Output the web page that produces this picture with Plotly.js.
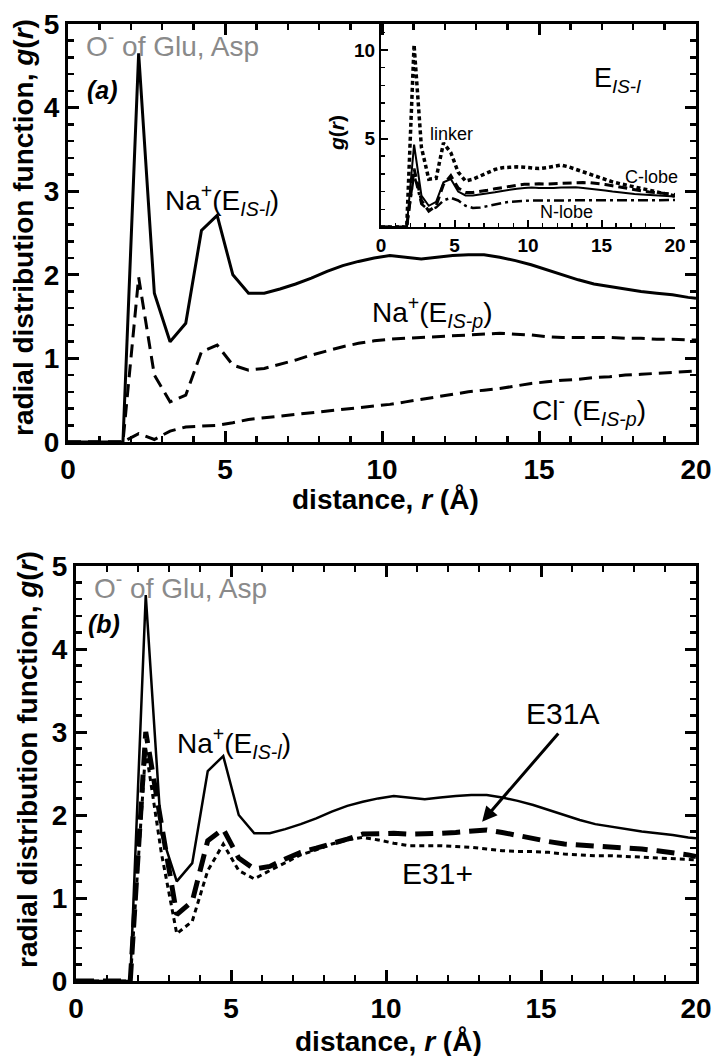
<!DOCTYPE html>
<html>
<head>
<meta charset="utf-8">
<script src="https://cdn.plot.ly/plotly-3.0.1.min.js"></script>
<style>
html,body{margin:0;padding:0;background:#fff;}
#wrap{position:relative;width:717px;height:1056px;}
#chart{position:absolute;left:0;top:0;width:717px;height:1056px;}
#inset{position:absolute;left:0;top:0;width:717px;height:1056px;pointer-events:none;}
</style>
</head>
<body>
<div id="wrap"><div id="chart"></div><div id="inset"></div></div>
<script>
// distance grid (Å)
const r = [0, 1.25, 1.75, 2.25, 2.75, 3.25, 3.75, 4.25, 4.75, 5.25, 5.75, 6.25, 6.75, 7.25, 7.75, 8.25, 8.75, 9.25, 9.75, 10.25, 10.75, 11.25, 11.75, 12.25, 12.75, 13.25, 13.75, 14.25, 14.75, 15.25, 15.75, 16.25, 16.75, 17.25, 17.75, 18.25, 18.75, 19.25, 19.75, 20];
// panel (a)
const naL = [0,0,0,4.65,1.78,1.2,1.42,2.53,2.71,2.0,1.78,1.78,1.83,1.89,1.96,2.04,2.11,2.16,2.2,2.23,2.21,2.19,2.21,2.23,2.24,2.24,2.21,2.17,2.12,2.06,2.0,1.94,1.89,1.86,1.83,1.8,1.78,1.76,1.73,1.72];
const naP = [0,0,0,1.97,0.8,0.48,0.56,1.08,1.16,0.92,0.86,0.88,0.93,0.98,1.04,1.09,1.14,1.18,1.21,1.23,1.24,1.25,1.26,1.27,1.28,1.29,1.3,1.29,1.28,1.26,1.25,1.25,1.25,1.25,1.24,1.24,1.23,1.23,1.22,1.22];
const clP = [0,0,0,0.1,0.03,0.13,0.18,0.19,0.2,0.23,0.27,0.29,0.31,0.33,0.35,0.37,0.39,0.41,0.43,0.45,0.48,0.51,0.54,0.57,0.6,0.62,0.64,0.67,0.7,0.72,0.74,0.75,0.77,0.78,0.8,0.81,0.82,0.83,0.84,0.85];
// panel (b)
const e31A = [0,0,0,3.0,1.88,0.8,0.96,1.69,1.83,1.48,1.35,1.38,1.47,1.55,1.6,1.65,1.71,1.77,1.78,1.78,1.77,1.77,1.78,1.79,1.81,1.82,1.79,1.75,1.71,1.68,1.65,1.64,1.63,1.62,1.6,1.59,1.57,1.55,1.52,1.5];
const e31P = [0,0,0,2.8,1.55,0.57,0.72,1.33,1.65,1.33,1.23,1.33,1.43,1.52,1.58,1.65,1.7,1.73,1.7,1.66,1.63,1.63,1.63,1.62,1.61,1.59,1.57,1.56,1.56,1.55,1.53,1.52,1.51,1.51,1.5,1.49,1.48,1.47,1.46,1.46];
// inset (E_IS-l)
const linker = [0,0,0,10.3,4.5,2.7,2.75,4.75,4.2,3.1,2.6,2.7,2.9,3.1,3.25,3.35,3.4,3.4,3.38,3.35,3.3,3.35,3.45,3.5,3.4,3.25,3.1,2.95,2.8,2.65,2.55,2.45,2.35,2.25,2.15,2.05,1.95,1.85,1.8,1.75];
const cLobe = [0,0,0,3.3,1.5,0.9,1.2,2.4,2.9,2.2,1.95,1.95,2.0,2.08,2.16,2.24,2.3,2.36,2.41,2.44,2.44,2.43,2.45,2.48,2.5,2.51,2.51,2.5,2.46,2.4,2.33,2.25,2.17,2.1,2.04,1.98,1.93,1.89,1.86,1.84];
const nLobe = [0,0,0,3.0,1.3,0.95,1.1,1.5,1.65,1.5,1.2,1.08,1.1,1.18,1.28,1.36,1.42,1.46,1.49,1.5,1.5,1.5,1.52,1.53,1.54,1.54,1.54,1.54,1.53,1.53,1.53,1.53,1.53,1.52,1.52,1.52,1.52,1.52,1.52,1.52];
const xTicks = [0, 5, 10, 15, 20];
const yTicks = [0, 1, 2, 3, 4, 5];
const insetXTicks = [0, 5, 10, 15, 20];
const insetYTicks = [5, 10];

const W = 717, H = 1056;
const FONT = 'Liberation Sans, Arial, sans-serif';
const dx = (a, b) => [a / W, b / W];
const dy = (top, bottom) => [1 - bottom / H, 1 - top / H];
const px = (x) => x / W, py = (y) => 1 - y / H;

function mainAxis(domain, range, tickvals, dtickMinor, anchor, standoff) {
  return {
    domain: domain, range: range, anchor: anchor,
    tickmode: 'linear', tick0: tickvals[0], dtick: tickvals[1] - tickvals[0],
    ticks: 'inside', ticklen: 11, tickwidth: 3, tickcolor: '#000',
    minor: {tickmode: 'linear', tick0: 0, dtick: dtickMinor, ticks: 'inside', ticklen: 6, tickwidth: 2.5, tickcolor: '#000', showgrid: false},
    showline: true, linewidth: 3, linecolor: '#000', mirror: 'allticks',
    showgrid: false, zeroline: false,
    tickfont: {family: FONT, size: 28, color: '#000', weight: 'bold'},
    ticklabelstandoff: standoff
  };
}
function insetAxis(domain, range, tickvals, dtickMinor, anchor) {
  return {
    domain: domain, range: range, anchor: anchor,
    tickmode: 'array', tickvals: tickvals,
    ticks: 'inside', ticklen: 7, tickwidth: 2, tickcolor: '#000',
    minor: {tickmode: 'linear', tick0: 0, dtick: dtickMinor, ticks: 'inside', ticklen: 4, tickwidth: 1.5, tickcolor: '#000', showgrid: false},
    showline: true, linewidth: 2, linecolor: '#000', mirror: false,
    showgrid: false, zeroline: false,
    tickfont: {family: FONT, size: 19, color: '#000', weight: 'bold'},
    ticklabelstandoff: 0
  };
}

const line = (x, y, xa, ya, w, dash) => ({x: x, y: y, xaxis: xa, yaxis: ya, type: 'scatter', mode: 'lines',
  line: {color: '#000', width: w, dash: dash}, hoverinfo: 'skip'});

const txt = (text, x, y, xref, yref, size, extra) => Object.assign({
  text: text, x: x, y: y, xref: xref, yref: yref, showarrow: false,
  font: {family: FONT, size: size, color: '#000'}, xanchor: 'center', yanchor: 'middle'
}, extra || {});
const gray = '#8a8a8a';

// ---- main figure: panels (a) and (b)
const mainData = [
  line(r, naL, 'x', 'y', 3, 'solid'),
  line(r, naP, 'x', 'y', 3, '13px,7px'),
  line(r, clP, 'x', 'y', 3, '13px,7px'),
  line(r, naL, 'x2', 'y2', 2.5, 'solid'),
  line(r, e31P, 'x2', 'y2', 3, '5px,4px'),
  line(r, e31A, 'x2', 'y2', 5, '18px,9px')
];
const mainAnnotations = [
  txt('<b>radial distribution function, <i>g</i>(<i>r</i>)</b>', px(23), py(228), 'paper', 'paper', 28, {textangle: -90}),
  txt('<b>distance, <i>r</i> (Å)</b>', px(385), py(499), 'paper', 'paper', 28),
  txt('<b>radial distribution function, <i>g</i>(<i>r</i>)</b>', px(27), py(760), 'paper', 'paper', 28, {textangle: -90}),
  txt('<b>distance, <i>r</i> (Å)</b>', px(388), py(1041), 'paper', 'paper', 28),
  txt('O<sup>-</sup> of Glu, Asp', 0.5, 4.76, 'x', 'y', 28, {xanchor: 'left', font: {family: FONT, size: 28, color: gray}}),
  txt('<b><i>(a)</i></b>', 1.1, 4.21, 'x', 'y', 25),
  txt('Na<sup>+</sup>(E<sub><i>IS-l</i></sub>)', 4.9, 2.9, 'x', 'y', 28),
  txt('Na<sup>+</sup>(E<sub><i>IS-p</i></sub>)', 11.6, 1.55, 'x', 'y', 28),
  txt('Cl<sup>-</sup> (E<sub><i>IS-p</i></sub>)', 16.6, 0.38, 'x', 'y', 28),
  txt('O<sup>-</sup> of Glu, Asp', 0.5, 4.76, 'x2', 'y2', 28, {xanchor: 'left', font: {family: FONT, size: 28, color: gray}}),
  txt('<b><i>(b)</i></b>', 0.9, 4.3, 'x2', 'y2', 25),
  txt('Na<sup>+</sup>(E<sub><i>IS-l</i></sub>)', 5.1, 2.87, 'x2', 'y2', 28),
  txt('E31A', 15.7, 3.22, 'x2', 'y2', 30),
  txt('E31+', 11.65, 1.3, 'x2', 'y2', 30),
  {x: 13.1, y: 1.92, xref: 'x2', yref: 'y2', ax: 15.6, ay: 3.0, axref: 'x2', ayref: 'y2',
   showarrow: true, arrowhead: 2, arrowsize: 1, arrowwidth: 3, arrowcolor: '#000', text: ''}
];
const mainLayout = {
  width: W, height: H, margin: {l: 0, r: 0, t: 0, b: 0},
  paper_bgcolor: '#fff', plot_bgcolor: 'rgba(0,0,0,0)', showlegend: false,
  xaxis: mainAxis(dx(68, 696), [0, 20], xTicks, 1, 'y', 0),
  yaxis: mainAxis(dy(24, 442), [0, 5], yTicks, 0.2, 'x', 0),
  xaxis2: mainAxis(dx(76, 696), [0, 20], xTicks, 1, 'y2', 0),
  yaxis2: mainAxis(dy(566, 981), [0, 5], yTicks, 0.2, 'x2', 0),
  annotations: mainAnnotations
};

// ---- inset (separate transparent figure on top)
const insetData = [
  line(r, naL, 'x', 'y', 2, 'solid'),
  line(r, linker, 'x', 'y', 3.5, '4px,3px'),
  line(r, cLobe, 'x', 'y', 3, '9px,5px'),
  line(r, nLobe, 'x', 'y', 2.5, '10px,4px,3px,4px')
];
const insetLayout = {
  width: W, height: H, margin: {l: 0, r: 0, t: 0, b: 0},
  paper_bgcolor: 'rgba(0,0,0,0)', plot_bgcolor: 'rgba(0,0,0,0)', showlegend: false,
  xaxis: insetAxis(dx(381, 675), [0, 20], insetXTicks, 1, 'y'),
  yaxis: insetAxis(dy(24, 227), [0, 11.47], insetYTicks, 1, 'x'),
  annotations: [
    txt('<b><i>g</i>(<i>r</i>)</b>', px(336), py(133), 'paper', 'paper', 21, {textangle: -90}),
    txt('E<sub><i>IS-l</i></sub>', 16.1, 8.3, 'x', 'y', 27),
    txt('linker', 4.8, 5.25, 'x', 'y', 18),
    txt('C-lobe', 18.4, 2.8, 'x', 'y', 18),
    txt('N-lobe', 12.6, 0.85, 'x', 'y', 18)
  ]
};

Plotly.newPlot('chart', mainData, mainLayout, {staticPlot: true, displayModeBar: false});
Plotly.newPlot('inset', insetData, insetLayout, {staticPlot: true, displayModeBar: false});
</script>
</body>
</html>
